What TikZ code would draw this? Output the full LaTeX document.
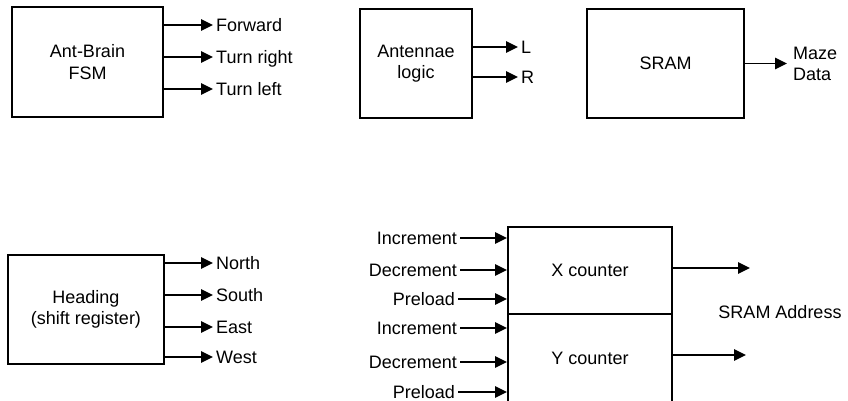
\documentclass[tikz,border=0pt]{standalone}
\usepackage{fontspec}
\setmainfont{Liberation Sans}
\usetikzlibrary{arrows.meta}
\begin{document}
\begin{tikzpicture}[x=1pt,y=-1pt,
  every node/.style={font=\fontsize{18}{21.5}\selectfont},
  blk/.style={draw, line width=2pt, inner sep=0pt, align=center},
  lbl/.style={inner sep=3pt, text height=12.9pt, text depth=0pt},
  arr/.style={line width=1.6pt, -{Triangle[length=12pt,width=11.5pt]}}]
\useasboundingbox (0,0) rectangle (848,400);

% Ant-Brain FSM
\node[blk, minimum width=151pt, minimum height=110pt] (fsm) at (87.5,62) {Ant-Brain\\FSM};
\node[lbl, anchor=west] (fwd) at (213,25) {Forward};
\node[lbl, anchor=west] (tr) at (213,57) {Turn right};
\node[lbl, anchor=west] (tl) at (213,89) {Turn left};
\foreach \n in {fwd,tr,tl} \draw[arr] (fsm.east |- \n.west) -- (\n.west);

% Antennae logic
\node[blk, minimum width=112pt, minimum height=109pt] (ant) at (416,63.5) {Antennae\\logic};
\node[lbl, anchor=west] (L) at (518,47) {L};
\node[lbl, anchor=west] (R) at (518,77) {R};
\foreach \n in {L,R} \draw[arr] (ant.east |- \n.west) -- (\n.west);

% SRAM
\node[blk, minimum width=157pt, minimum height=109pt] (sram) at (665.5,63.5) {SRAM};
\node[anchor=west, align=left, inner sep=6pt] (maze) at (787,64) {Maze\\Data};
\draw[arr] (sram.east) -- (sram.east -| maze.west);

% Heading
\node[blk, minimum width=156pt, minimum height=109pt] (head) at (86,309.5) {Heading\\(shift register)};
\node[lbl, anchor=west] (N) at (213,263) {North};
\node[lbl, anchor=west] (S) at (213,295) {South};
\node[lbl, anchor=west] (E) at (213,327) {East};
\node[lbl, anchor=west] (W) at (213,357) {West};
\foreach \n in {N,S,E,W} \draw[arr] (head.east |- \n.west) -- (\n.west);

% Counters
\node[blk, minimum width=164pt, minimum height=87pt] (xc) at (590,270.5) {X counter};
\node[blk, minimum width=164pt, minimum height=88pt] (yc) at (590,358) {Y counter};

\node[lbl, anchor=east] (xi) at (460,238) {Increment};
\node[lbl, anchor=east] (xd) at (460,270) {Decrement};
\node[lbl, anchor=east] (xp) at (458,299) {Preload};
\node[lbl, anchor=east] (yi) at (460,328) {Increment};
\node[lbl, anchor=east] (yd) at (460,362) {Decrement};
\node[lbl, anchor=east] (yp) at (458,392) {Preload};
\foreach \n in {xi,xd,xp} \draw[arr] (\n.east) -- (xc.west |- \n.east);
\foreach \n in {yi,yd,yp} \draw[arr] (\n.east) -- (yc.west |- \n.east);

\coordinate (xo) at (750,268);
\coordinate (yo) at (746,355);
\draw[arr] (xc.east |- xo) -- (xo);
\draw[arr] (yc.east |- yo) -- (yo);
\node (addr) at (780,312) {SRAM Address};
\end{tikzpicture}
\end{document}
